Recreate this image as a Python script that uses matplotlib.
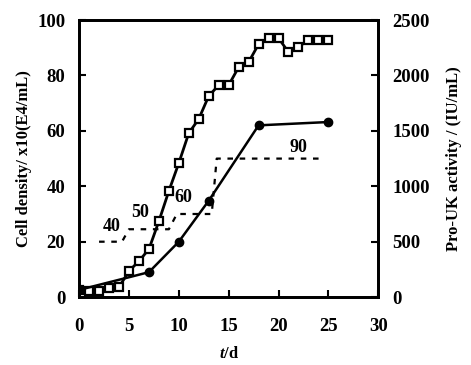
import matplotlib.pyplot as plt

# cell density (left axis, x10 E4/mL)
t_cell = [0, 1, 2, 3, 4, 5, 6, 7, 8, 9, 10, 11, 12, 13, 14, 15, 16, 17, 18, 19, 20, 21, 22, 23, 24, 25]
cell = [2.5, 2.2, 2.2, 3.2, 3.6, 9.4, 13, 17.3, 27.4, 38.3, 48.4, 59.2, 64.3, 72.6, 76.5, 76.5,
        83, 84.8, 91.3, 93.5, 93.5, 88.4, 90.3, 92.8, 92.8, 92.8]

# Pro-UK activity (right axis, IU/mL)
t_act = [0, 7, 10, 13, 18, 25]
act = [65, 225, 500, 870, 1550, 1580]

# dashed step line (left axis scale)
step_x = [2, 4.3, 5, 9, 9.8, 13.3, 13.8, 24.5]
step_y = [20, 20, 24.5, 24.5, 30, 30, 50, 50]
step_labels = ["40", "50", "60", "90"]
label_pos = [(3.3, 25.5), (6.1, 30.5), (10.5, 36), (22, 54)]

plt.rcParams['font.family'] = ['Liberation Serif', 'DejaVu Serif']
plt.rcParams['font.weight'] = 'bold'
plt.rcParams['mathtext.fontset'] = 'custom'
plt.rcParams['mathtext.it'] = 'Liberation Serif:italic:bold'
plt.rcParams['xtick.direction'] = 'in'
plt.rcParams['ytick.direction'] = 'in'

fig = plt.figure(figsize=(4.71, 3.65), dpi=100)
ax = fig.add_axes([0.168, 0.186, 0.635, 0.759])
ax2 = ax.twinx()

ax.plot(t_cell, cell, color='black', lw=2, marker='s', ms=6, mfc='white', mec='black', mew=1.6, zorder=3)
ax.plot(step_x, step_y, color='black', lw=1.6, linestyle=(0, (2.5, 3)), zorder=2)
for lab, (x, y) in zip(step_labels, label_pos):
    ax.text(x, y, lab, fontsize=13, fontweight='bold', ha='center', va='center')

ax2.plot(t_act, act, color='black', lw=1.8, marker='o', ms=6, zorder=3)

ax.set_xlim(0, 30)
ax.set_ylim(0, 100)
ax2.set_ylim(0, 2500)
ax.set_xticks([0, 5, 10, 15, 20, 25, 30])
ax.set_yticks([0, 20, 40, 60, 80, 100])
ax2.set_yticks([0, 500, 1000, 1500, 2000, 2500])

for a in (ax, ax2):
    for s in a.spines.values():
        s.set_linewidth(2)
    a.tick_params(labelsize=13.5, width=1.5, length=5, pad=10)
ax.tick_params(axis='x', pad=15)

ax.set_ylabel("Cell density/ x10(E4/mL)", fontsize=12, fontweight='bold', labelpad=4)
ax2.set_ylabel("Pro-UK activity / (IU/mL)", fontsize=12, fontweight='bold', labelpad=12)
ax.set_xlabel("$t$/d", fontsize=12, fontweight='bold', labelpad=8)

plt.savefig("out.png", dpi=100)
